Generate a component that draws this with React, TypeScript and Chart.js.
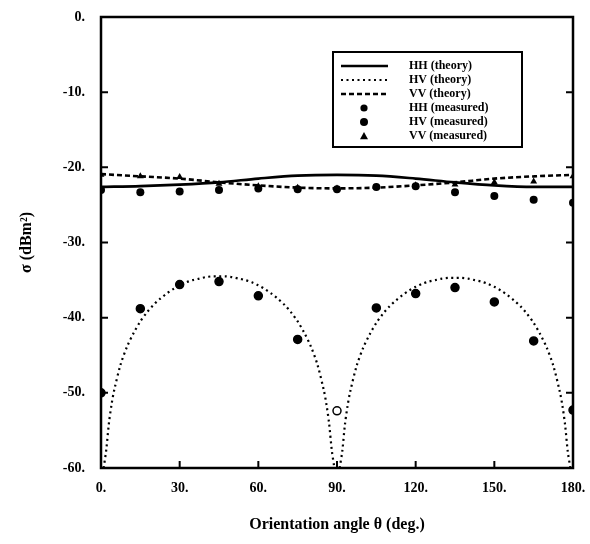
import React, { useEffect, useRef } from 'react';
import { Chart, registerables } from 'chart.js';

Chart.register(...registerables);

// ---------- data ----------
const measuredAngles = [0, 15, 30, 45, 60, 75, 90, 105, 120, 135, 150, 165, 180];
const hhMeasured = [-23.0, -23.3, -23.2, -23.0, -22.8, -22.9, -22.9, -22.6, -22.5, -23.3, -23.8, -24.3, -24.7];
const hvMeasured = [-50.0, -38.8, -35.6, -35.2, -37.1, -42.9, -52.4, -38.7, -36.8, -36.0, -37.9, -43.1, -52.3];
const vvMeasured = [-21.0, -21.2, -21.3, -22.2, -22.5, -22.7, -22.8, -22.6, -22.4, -22.3, -22.0, -21.9, -21.2];

const theoryAngles = [0, 15, 30, 45, 60, 75, 90, 105, 120, 135, 150, 165, 180];
const hhTheory = [-22.6, -22.5, -22.3, -22.0, -21.5, -21.1, -21.0, -21.1, -21.5, -22.0, -22.4, -22.6, -22.6];
const vvTheory = [-20.9, -21.2, -21.5, -22.0, -22.4, -22.7, -22.8, -22.7, -22.4, -22.0, -21.5, -21.2, -21.0];

const hvTheoryAngles = [
  1, 2, 3, 4, 5, 7.5, 10, 12.5, 15, 17.5, 20, 22.5, 25, 27.5, 30, 32.5, 35, 37.5, 40, 42.5, 45,
  47.5, 50, 52.5, 55, 57.5, 60, 62.5, 65, 67.5, 70, 72.5, 75, 77.5, 80, 82.5, 85, 86, 87, 88, 89,
  90,
  91, 92, 93, 94, 95, 97.5, 100, 102.5, 105, 107.5, 110, 112.5, 115, 117.5, 120, 122.5, 125, 127.5, 130, 132.5, 135,
  137.5, 140, 142.5, 145, 147.5, 150, 152.5, 155, 157.5, 160, 162.5, 165, 167.5, 170, 172.5, 175, 176, 177, 178, 179,
];
const hvTheory = [
  -60, -57.6, -54.1, -51.6, -49.7, -46.2, -43.8, -42.0, -40.5, -39.3, -38.3, -37.5, -36.8, -36.2, -35.7, -35.3, -35.0, -34.8, -34.6, -34.5, -34.5,
  -34.5, -34.6, -34.8, -35.0, -35.3, -35.7, -36.2, -36.8, -37.5, -38.3, -39.3, -40.5, -42.0, -43.8, -46.2, -49.7, -51.6, -54.1, -57.6, -60,
  null,
  -60, -57.8, -54.3, -51.8, -49.9, -46.4, -44.0, -42.2, -40.7, -39.5, -38.5, -37.7, -37.0, -36.4, -35.9, -35.5, -35.2, -35.0, -34.8, -34.7, -34.7,
  -34.7, -34.8, -35.0, -35.2, -35.5, -35.9, -36.4, -37.0, -37.7, -38.5, -39.5, -40.7, -42.2, -44.0, -46.4, -49.9, -51.8, -54.3, -57.8, -60,
];

const xTicks = [0, 30, 60, 90, 120, 150, 180];
const yTicks = [0, -10, -20, -30, -40, -50, -60];

const legendLabels = ['HH (theory)', 'HV (theory)', 'VV (theory)', 'HH (measured)', 'HV (measured)', 'VV (measured)'];

// ---------- styles ----------
const FONT = "'Liberation Serif', 'Times New Roman', serif";
const INK = '#000000';

const pts = (xs: number[], ys: (number | null)[]) => xs.map((x, i) => ({ x, y: ys[i] }));

const noPad = (s: any) => {
  s.paddingLeft = 0;
  s.paddingRight = 0;
  s.paddingTop = 0;
  s.paddingBottom = 0;
};

const frameTicksPlugin = {
  id: 'frameTicks',
  afterDatasetsDraw(chart: any) {
    const { ctx, chartArea: a, scales } = chart;
    const xs = scales.x;
    const ys = scales.y;
    ctx.save();
    ctx.strokeStyle = INK;
    ctx.lineWidth = 2.5;
    ctx.strokeRect(a.left, a.top, a.right - a.left, a.bottom - a.top);
    ctx.lineWidth = 2;
    const len = 7;
    yTicks.forEach((v) => {
      const y = ys.getPixelForValue(v);
      ctx.beginPath();
      ctx.moveTo(a.left, y);
      ctx.lineTo(a.left + len, y);
      ctx.moveTo(a.right, y);
      ctx.lineTo(a.right - len, y);
      ctx.stroke();
    });
    xTicks.forEach((v) => {
      const x = xs.getPixelForValue(v);
      ctx.beginPath();
      ctx.moveTo(x, a.bottom);
      ctx.lineTo(x, a.bottom - len);
      ctx.stroke();
    });
    ctx.restore();
  },
};

const legendPlugin = {
  id: 'boxLegend',
  afterDraw(chart: any) {
    const { ctx } = chart;
    const box = { l: 333, t: 52, r: 522, b: 147 };
    ctx.save();
    ctx.fillStyle = '#ffffff';
    ctx.fillRect(box.l, box.t, box.r - box.l, box.b - box.t);
    ctx.strokeStyle = INK;
    ctx.lineWidth = 2;
    ctx.strokeRect(box.l, box.t, box.r - box.l, box.b - box.t);
    const rowY0 = 66;
    const step = 14;
    const sx0 = 341;
    const sx1 = 388;
    const mx = 364;
    chart.data.datasets.forEach((ds: any, i: number) => {
      const y = rowY0 + i * step;
      ctx.strokeStyle = INK;
      ctx.fillStyle = INK;
      if (i < 3) {
        ctx.beginPath();
        ctx.lineWidth = ds.borderWidth;
        ctx.setLineDash(ds.borderDash || []);
        ctx.moveTo(sx0, y);
        ctx.lineTo(sx1, y);
        ctx.stroke();
        ctx.setLineDash([]);
      } else {
        ctx.beginPath();
        if (ds.pointStyle === 'triangle') {
          const r = 4;
          ctx.moveTo(mx, y - r);
          ctx.lineTo(mx + r, y + r * 0.8);
          ctx.lineTo(mx - r, y + r * 0.8);
          ctx.closePath();
        } else {
          ctx.arc(mx, y, i === 4 ? 4 : 3.6, 0, Math.PI * 2);
        }
        ctx.fill();
      }
      ctx.font = `bold 12px ${FONT}`;
      ctx.textBaseline = 'middle';
      ctx.textAlign = 'left';
      ctx.fillText(legendLabels[i], 409, y);
    });
    ctx.restore();
  },
};

export default function App() {
  const ref = useRef<HTMLCanvasElement | null>(null);

  useEffect(() => {
    if (!ref.current) return;
    const hvBg = measuredAngles.map((a) => (a === 90 ? '#ffffff' : INK));
    const chart = new Chart(ref.current, {
      type: 'line',
      data: {
        datasets: [
          {
            label: legendLabels[0],
            data: pts(theoryAngles, hhTheory),
            borderColor: INK,
            borderWidth: 2.6,
            pointRadius: 0,
            cubicInterpolationMode: 'monotone',
            fill: false,
          },
          {
            label: legendLabels[1],
            data: pts(hvTheoryAngles, hvTheory),
            borderColor: INK,
            borderWidth: 2.2,
            borderDash: [2, 3.5],
            pointRadius: 0,
            spanGaps: false,
            tension: 0.3,
            fill: false,
          },
          {
            label: legendLabels[2],
            data: pts(theoryAngles, vvTheory),
            borderColor: INK,
            borderWidth: 2.6,
            borderDash: [5, 3],
            pointRadius: 0,
            cubicInterpolationMode: 'monotone',
            fill: false,
          },
          {
            label: legendLabels[3],
            data: pts(measuredAngles, hhMeasured),
            showLine: false,
            pointStyle: 'circle',
            pointRadius: 4,
            pointBackgroundColor: INK,
            pointBorderColor: INK,
            pointBorderWidth: 0,
          },
          {
            label: legendLabels[4],
            data: pts(measuredAngles, hvMeasured),
            showLine: false,
            pointStyle: 'circle',
            pointRadius: 4,
            pointBackgroundColor: hvBg,
            pointBorderColor: INK,
            pointBorderWidth: 1.5,
          },
          {
            label: legendLabels[5],
            data: pts(measuredAngles, vvMeasured),
            showLine: false,
            pointStyle: 'triangle',
            pointRadius: 4,
            pointBackgroundColor: INK,
            pointBorderColor: INK,
            pointBorderWidth: 0,
          },
        ],
      },
      options: {
        animation: false,
        responsive: false,
        maintainAspectRatio: false,
        layout: { padding: { top: 17, right: 17, left: 0, bottom: 0 } },
        plugins: {
          legend: { display: false },
          tooltip: { enabled: false },
        },
        scales: {
          x: {
            type: 'linear',
            min: 0,
            max: 180,
            afterBuildTicks: (s: any) => {
              s.ticks = xTicks.map((v) => ({ value: v }));
            },
            afterFit: (s: any) => {
              s.height = 76;
              noPad(s);
            },
            grid: { display: false, drawTicks: false },
            border: { display: false },
            ticks: {
              color: INK,
              padding: 12,
              maxRotation: 0,
              font: { family: FONT, size: 14, weight: 'bold' },
              callback: (v: any) => `${v}.`,
            },
            title: {
              display: true,
              text: 'Orientation angle θ (deg.)',
              color: INK,
              font: { family: FONT, size: 16, weight: 'bold' },
              padding: { top: 0, bottom: 10 },
            },
          },
          y: {
            type: 'linear',
            min: -60,
            max: 0,
            afterBuildTicks: (s: any) => {
              s.ticks = yTicks.map((v) => ({ value: v }));
            },
            afterFit: (s: any) => {
              s.width = 101;
              noPad(s);
            },
            grid: { display: false, drawTicks: false },
            border: { display: false },
            ticks: {
              color: INK,
              padding: 16,
              font: { family: FONT, size: 14, weight: 'bold' },
              callback: (v: any) => `${v}.`,
            },
            title: {
              display: true,
              text: 'σ (dBm²)',
              color: INK,
              font: { family: FONT, size: 16, weight: 'bold' },
              padding: { top: 17, bottom: 0 },
            },
          },
        },
      },
      plugins: [frameTicksPlugin, legendPlugin],
    } as any);
    return () => chart.destroy();
  }, []);

  return (
    <div style={{ position: 'absolute', left: 0, top: 0, width: 590, height: 544, background: '#ffffff' }}>
      <canvas ref={ref} width={590} height={544} style={{ display: 'block', width: 590, height: 544 }} />
    </div>
  );
}
